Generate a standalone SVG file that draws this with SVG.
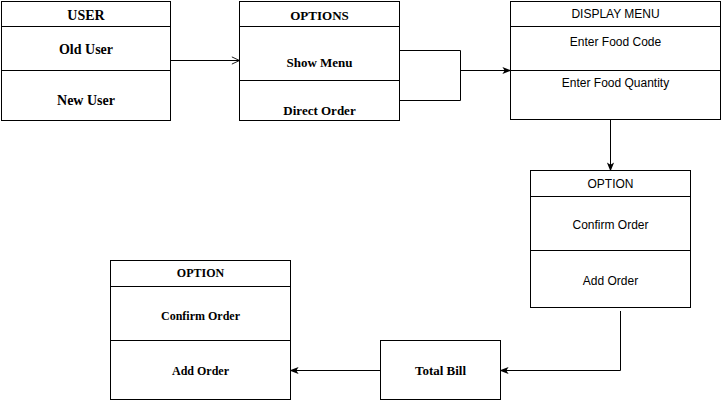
<svg xmlns="http://www.w3.org/2000/svg" width="722" height="401" viewBox="0 0 722 401">
<defs>
<style>
.box{fill:#fff;stroke:#000;stroke-width:1}
.ln{fill:none;stroke:#000;stroke-width:1}
.serif{font-family:"Liberation Serif","Times New Roman",serif;font-weight:bold;text-anchor:middle;fill:#000}
.sans{font-family:"Liberation Sans",Arial,sans-serif;font-size:12px;text-anchor:middle;fill:#000}
</style>
<marker id="fill" viewBox="0 0 10 10" refX="9" refY="5" markerWidth="9" markerHeight="9" markerUnits="userSpaceOnUse" orient="auto">
<path d="M0,1 L10,5 L0,9 L2.5,5 Z" fill="#000"/>
</marker>
<marker id="open" viewBox="0 0 10 10" refX="9.5" refY="5" markerWidth="9" markerHeight="9" markerUnits="userSpaceOnUse" orient="auto">
<path d="M1,1 L9.5,5 L1,9" fill="none" stroke="#000" stroke-width="1"/>
</marker>
</defs>
<rect width="722" height="401" fill="#fff"/>

<g id="user">
<rect class="box" x="1.5" y="1.5" width="169" height="119"/>
<line class="ln" x1="1.5" y1="26.5" x2="170.5" y2="26.5"/>
<line class="ln" x1="1.5" y1="70.5" x2="170.5" y2="70.5"/>
<text class="serif" x="86" y="15" font-size="14" dominant-baseline="central">USER</text>
<text class="serif" x="86" y="49" font-size="14" dominant-baseline="central">Old User</text>
<text class="serif" x="86" y="100" font-size="14" dominant-baseline="central">New User</text>
</g>

<g id="options">
<rect class="box" x="239.5" y="1.5" width="160" height="119"/>
<line class="ln" x1="239.5" y1="26.5" x2="399.5" y2="26.5"/>
<line class="ln" x1="239.5" y1="80.5" x2="399.5" y2="80.5"/>
<text class="serif" x="319.5" y="15" font-size="13" dominant-baseline="central">OPTIONS</text>
<text class="serif" x="319.5" y="62" font-size="13" dominant-baseline="central">Show Menu</text>
<text class="serif" x="319.5" y="110" font-size="13" dominant-baseline="central">Direct Order</text>
</g>

<g id="display-menu">
<rect class="box" x="510.5" y="1.5" width="210" height="118"/>
<line class="ln" x1="510.5" y1="26.5" x2="720.5" y2="26.5"/>
<line class="ln" x1="510.5" y1="70.5" x2="720.5" y2="70.5"/>
<text class="sans" x="615.5" y="14" dominant-baseline="central">DISPLAY MENU</text>
<text class="sans" x="615.5" y="42" dominant-baseline="central">Enter Food Code</text>
<text class="sans" x="615.5" y="83" dominant-baseline="central">Enter Food Quantity</text>
</g>

<g id="option-right">
<rect class="box" x="530.5" y="170.5" width="160" height="137"/>
<line class="ln" x1="530.5" y1="196.5" x2="690.5" y2="196.5"/>
<line class="ln" x1="530.5" y1="250.5" x2="690.5" y2="250.5"/>
<text class="sans" x="610.5" y="184" dominant-baseline="central">OPTION</text>
<text class="sans" x="610.5" y="225" dominant-baseline="central">Confirm Order</text>
<text class="sans" x="610.5" y="281" dominant-baseline="central">Add Order</text>
</g>

<g id="total-bill">
<rect class="box" x="380.5" y="340.5" width="120" height="59"/>
<text class="serif" x="440.5" y="370" font-size="13" dominant-baseline="central">Total Bill</text>
</g>

<g id="option-left">
<rect class="box" x="110.5" y="260.5" width="180" height="139"/>
<line class="ln" x1="110.5" y1="286.5" x2="290.5" y2="286.5"/>
<line class="ln" x1="110.5" y1="340.5" x2="290.5" y2="340.5"/>
<text class="serif" x="200.5" y="273" font-size="12" dominant-baseline="central">OPTION</text>
<text class="serif" x="200.5" y="316" font-size="12" dominant-baseline="central">Confirm Order</text>
<text class="serif" x="200.5" y="371" font-size="12" dominant-baseline="central">Add Order</text>
</g>

<g id="connectors">
<line class="ln" x1="170.5" y1="60.5" x2="239.5" y2="60.5" marker-end="url(#open)"/>
<polyline class="ln" points="400,50.5 460.5,50.5 460.5,100.5 400,100.5"/>
<line class="ln" x1="460.5" y1="70.5" x2="510.5" y2="70.5" marker-end="url(#fill)"/>
<line class="ln" x1="610.5" y1="120" x2="610.5" y2="170.5" marker-end="url(#fill)"/>
<polyline class="ln" points="620.5,311 620.5,370.5 500.5,370.5" marker-end="url(#fill)"/>
<line class="ln" x1="380.5" y1="370.5" x2="290.5" y2="370.5" marker-end="url(#fill)"/>
</g>
</svg>
